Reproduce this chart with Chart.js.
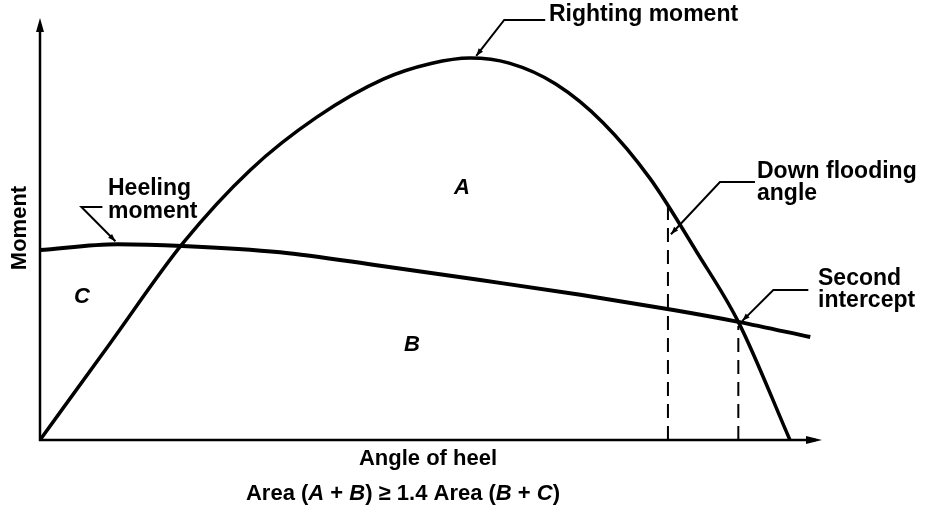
<!DOCTYPE html>
<html>
<head>
<meta charset="utf-8">
<script src="https://cdn.jsdelivr.net/npm/chart.js@4.4.0/dist/chart.umd.min.js"></script>
<style>
  html, body { margin: 0; padding: 0; background: #fff; }
  #wrap { width: 926px; height: 510px; }
</style>
</head>
<body>
<div id="wrap"><canvas id="myChart" width="926" height="510"></canvas></div>
<script>
// angle of heel (arbitrary units 0..100) vs moment (arbitrary units 0..100)
var rightingAngle  = [0, 9.0, 18.3, 26.9, 35.4, 43.9, 50.0, 55.0, 60.0, 66.0, 72.0, 78.0, 84.0, 89.3, 95.9];
var rightingMoment = [0, 23.0, 46.7, 64.0, 76.5, 85.5, 89.2, 90.5, 89.3, 84.3, 75.2, 62.0, 44.5, 28.0, 0];

var heelingAngle  = [0, 9.9, 18.2, 30.7, 43.5, 56.3, 69.1, 81.0, 89.3, 98.5];
var heelingMoment = [45.0, 46.4, 46.0, 44.5, 41.3, 37.9, 34.4, 30.8, 28.0, 24.4];

// down flooding angle and second intercept
var floodAngle = 80.3, floodTop = 57.3;
var interceptAngle = 89.3, interceptTop = 27.0;

function pts(xs, ys) {
    return xs.map(function (x, i) { return { x: x, y: ys[i] }; });
}

var FONT = 'bold 22px "Liberation Sans", Arial, sans-serif';
var LFONT = 'bold 23px "Liberation Sans", Arial, sans-serif';
var IFONT = 'italic bold 22px "Liberation Sans", Arial, sans-serif';

function leader(ctx, hx1, hx2, hy, tx, ty) {
    ctx.beginPath();
    ctx.moveTo(hx2, hy);
    ctx.lineTo(hx1, hy);
    ctx.lineTo(tx, ty);
    ctx.stroke();
    // small arrow head at the tip
    var a = Math.atan2(ty - hy, tx - hx1);
    ctx.beginPath();
    ctx.moveTo(tx, ty);
    ctx.lineTo(tx - 8 * Math.cos(a - 0.35), ty - 8 * Math.sin(a - 0.35));
    ctx.lineTo(tx - 8 * Math.cos(a + 0.35), ty - 8 * Math.sin(a + 0.35));
    ctx.closePath();
    ctx.fill();
}

function mixed(ctx, parts, cx, y) {
    var w = 0;
    parts.forEach(function (p) { ctx.font = p[1] ? IFONT : FONT; w += ctx.measureText(p[0]).width; });
    var x = cx - w / 2;
    ctx.textAlign = 'left';
    parts.forEach(function (p) {
        ctx.font = p[1] ? IFONT : FONT;
        ctx.fillText(p[0], x, y);
        x += ctx.measureText(p[0]).width;
    });
}

var decor = {
    id: 'decor',
    afterDraw: function (chart) {
        var ctx = chart.ctx, a = chart.chartArea;
        var xs = chart.scales.x, ys = chart.scales.y;
        ctx.save();
        ctx.fillStyle = '#000';
        ctx.strokeStyle = '#000';

        // axes with arrows
        ctx.lineWidth = 2.5;
        ctx.beginPath();
        ctx.moveTo(a.left, a.top + 6);
        ctx.lineTo(a.left, a.bottom);
        ctx.lineTo(a.right - 6, a.bottom);
        ctx.stroke();
        ctx.beginPath();
        ctx.moveTo(a.left, a.top);
        ctx.lineTo(a.left - 4, a.top + 14);
        ctx.lineTo(a.left + 4, a.top + 14);
        ctx.closePath();
        ctx.fill();
        ctx.beginPath();
        ctx.moveTo(a.right, a.bottom);
        ctx.lineTo(a.right - 16, a.bottom - 4);
        ctx.lineTo(a.right - 16, a.bottom + 4);
        ctx.closePath();
        ctx.fill();

        // leader lines
        ctx.lineWidth = 2;
        var pk = { x: xs.getPixelForValue(55.4), y: ys.getPixelForValue(90.3) };
        leader(ctx, pk.x + 31, pk.x + 72, 20, pk.x + 3, pk.y - 3);
        var fd = { x: xs.getPixelForValue(floodAngle), y: ys.getPixelForValue(floodTop) };
        leader(ctx, fd.x + 52, fd.x + 87, 182, fd.x + 3, fd.y + 36);
        var si = { x: xs.getPixelForValue(interceptAngle), y: ys.getPixelForValue(28.0) };
        leader(ctx, si.x + 35, si.x + 70, 290, si.x + 4, si.y - 1);
        var hm = { x: xs.getPixelForValue(9.9), y: ys.getPixelForValue(46.4) };
        leader(ctx, hm.x - 36, hm.x - 15, 207, hm.x - 2, hm.y - 3);

        // labels
        ctx.font = LFONT;
        ctx.textAlign = 'left';
        ctx.textBaseline = 'alphabetic';
        ctx.fillText('Righting moment', 549, 21);
        ctx.fillText('Down flooding', 757, 178);
        ctx.fillText('angle', 757, 200);
        ctx.fillText('Second', 818, 285);
        ctx.fillText('intercept', 818, 307);
        ctx.fillText('Heeling', 108, 195);
        ctx.fillText('moment', 108, 218);

        ctx.font = FONT;
        ctx.textAlign = 'center';
        ctx.fillText('Angle of heel', 428, 465);
        mixed(ctx, [['Area (', false], ['A', true], [' + ', false], ['B', true], [') \u2265 1.4 Area (', false], ['B', true], [' + ', false], ['C', true], [')', false]], 403, 500);

        ctx.font = IFONT;
        ctx.textAlign = 'center';
        ctx.textBaseline = 'middle';
        ctx.fillText('A', 462, 188);
        ctx.fillText('B', 412, 345);
        ctx.fillText('C', 82, 297);

        // y axis title
        ctx.font = FONT;
        ctx.translate(20, 228);
        ctx.rotate(-Math.PI / 2);
        ctx.fillText('Moment', 0, 0);
        ctx.restore();
    }
};

var ctx = document.getElementById('myChart').getContext('2d');
var myChart = new Chart(ctx, {
    type: 'scatter',
    data: {
        datasets: [{
            label: 'Righting moment',
            data: pts(rightingAngle, rightingMoment),
            showLine: true,
            borderColor: '#000',
            borderWidth: 3.5,
            pointRadius: 0,
            cubicInterpolationMode: 'monotone'
        }, {
            label: 'Heeling moment',
            data: pts(heelingAngle, heelingMoment),
            showLine: true,
            borderColor: '#000',
            borderWidth: 4,
            pointRadius: 0,
            cubicInterpolationMode: 'monotone'
        }, {
            label: 'Down flooding angle',
            data: [{ x: floodAngle, y: 0 }, { x: floodAngle, y: floodTop }],
            showLine: true,
            borderColor: '#000',
            borderWidth: 2,
            borderDash: [14, 8],
            pointRadius: 0
        }, {
            label: 'Second intercept',
            data: [{ x: interceptAngle, y: 0 }, { x: interceptAngle, y: interceptTop }],
            showLine: true,
            borderColor: '#000',
            borderWidth: 2,
            borderDash: [14, 8],
            pointRadius: 0
        }]
    },
    options: {
        responsive: false,
        animation: false,
        layout: { padding: { left: 40, top: 18, right: 104, bottom: 70 } },
        plugins: { legend: { display: false }, tooltip: { enabled: false } },
        scales: {
            x: { type: 'linear', min: 0, max: 100, display: false },
            y: { type: 'linear', min: 0, max: 100, display: false }
        }
    },
    plugins: [decor]
});
</script>
</body>
</html>
